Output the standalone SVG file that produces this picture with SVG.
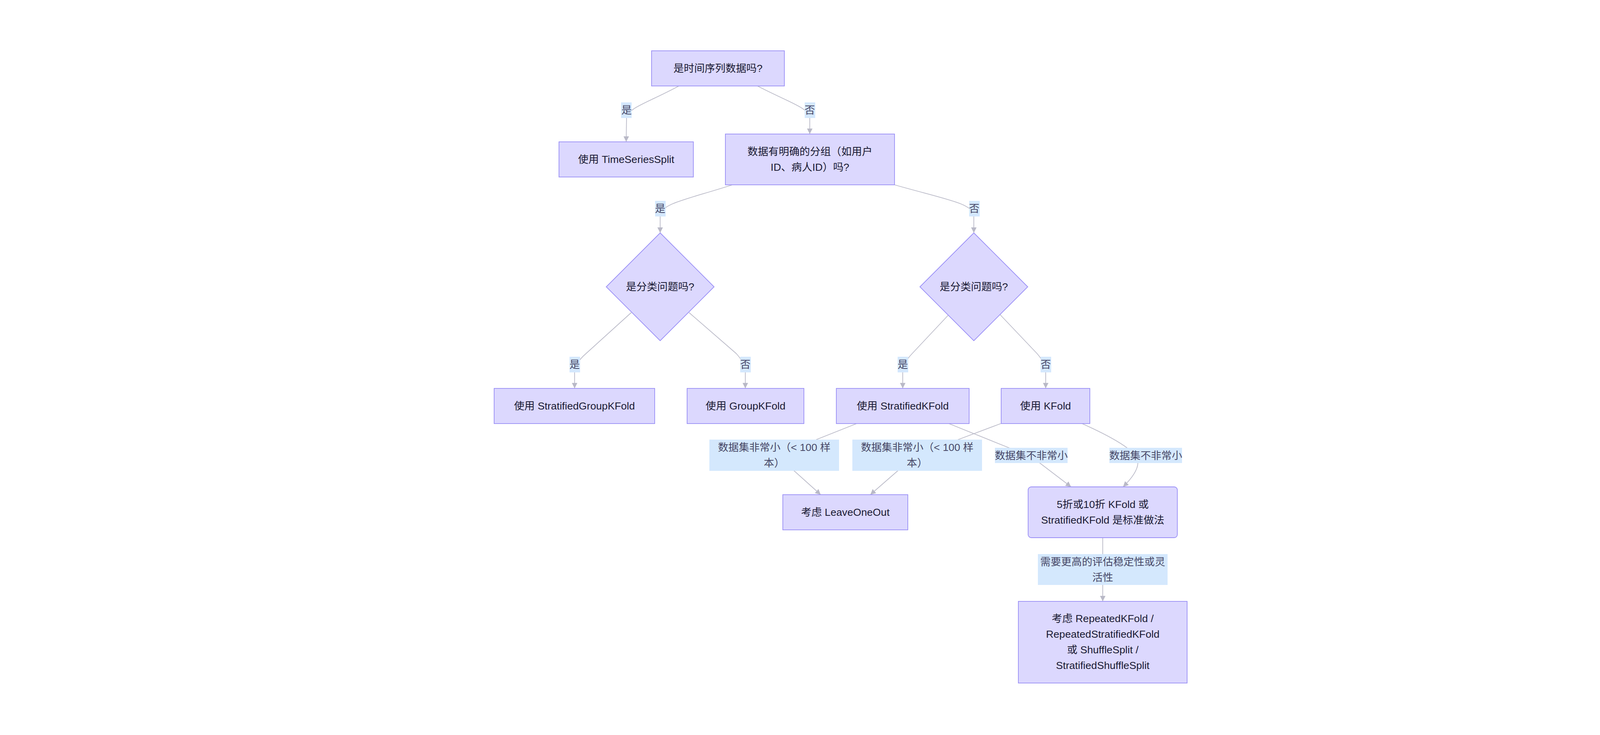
<svg xmlns="http://www.w3.org/2000/svg" width="4303" height="1881" viewBox="0 0 4303 1881">
<defs>
<style>
.node rect,.node polygon{fill:#dcd8fe;stroke:#9a8ff6;stroke-width:1.8}
.nt{font-family:"Liberation Sans","Noto Sans CJK SC",sans-serif;font-size:26.67px;fill:#1a1a33;text-anchor:middle;dominant-baseline:central}
.edge{fill:none;stroke:#b9b9c7;stroke-width:1.8}
.lbl rect{fill:#d4e8fd}
.lt{font-family:"Liberation Sans","Noto Sans CJK SC",sans-serif;font-size:26.67px;fill:#474766;text-anchor:middle;dominant-baseline:central}
</style>
<marker id="arr" viewBox="0 0 10 10" refX="10" refY="5" markerWidth="14" markerHeight="14" markerUnits="userSpaceOnUse" orient="auto">
<path d="M0,0 L10,5 L0,10 z" fill="#b9b9c7"/>
</marker>
</defs>
<rect width="4303" height="1881" fill="#ffffff"/>
<g id="connectors">
<path class="edge" d="M1738,220 C1660,262 1610,275 1604,300 L1603,363" marker-end="url(#arr)"/>
<path class="edge" d="M1939,220 C2020,262 2068,275 2073,300 L2073,343" marker-end="url(#arr)"/>
<path class="edge" d="M1875,473 C1760,510 1695,520 1690,550 L1690,596" marker-end="url(#arr)"/>
<path class="edge" d="M2290,473 C2420,510 2488,520 2493,550 L2493,596" marker-end="url(#arr)"/>
<path class="edge" d="M1616,800 L1500,905 Q1471,930 1471,955 L1471,994" marker-end="url(#arr)"/>
<path class="edge" d="M1764,800 L1885,905 Q1908,930 1908,955 L1908,994" marker-end="url(#arr)"/>
<path class="edge" d="M2429,805 L2335,905 Q2311,930 2311,955 L2311,994" marker-end="url(#arr)"/>
<path class="edge" d="M2560,805 L2655,905 Q2677,930 2677,955 L2677,994" marker-end="url(#arr)"/>
<path class="edge" d="M2193,1084 L2090,1125 L2033,1205 L2101,1266" marker-end="url(#arr)"/>
<path class="edge" d="M2562,1084 L2453,1125 L2298,1205 L2228,1266" marker-end="url(#arr)"/>
<path class="edge" d="M2429,1084 L2583,1146 L2662,1185 L2742,1246" marker-end="url(#arr)"/>
<path class="edge" d="M2770,1084 Q2850,1120 2885,1146 L2913,1185 Q2912,1210 2875,1246" marker-end="url(#arr)"/>
<path class="edge" d="M2823,1376 L2823,1539" marker-end="url(#arr)"/>
</g>
<g id="edge-labels">
<g class="lbl"><rect x="1590" y="262" width="27" height="40"/><text class="lt" x="1604" y="282">是</text></g>
<g class="lbl"><rect x="2060" y="262" width="27" height="40"/><text class="lt" x="2073" y="282">否</text></g>
<g class="lbl"><rect x="1677" y="514" width="27" height="40"/><text class="lt" x="1690" y="534">是</text></g>
<g class="lbl"><rect x="2481" y="514" width="27" height="40"/><text class="lt" x="2494" y="534">否</text></g>
<g class="lbl"><rect x="1458" y="913" width="27" height="40"/><text class="lt" x="1471" y="933">是</text></g>
<g class="lbl"><rect x="1895" y="913" width="27" height="40"/><text class="lt" x="1908" y="933">否</text></g>
<g class="lbl"><rect x="2298" y="913" width="27" height="40"/><text class="lt" x="2311" y="933">是</text></g>
<g class="lbl"><rect x="2664" y="913" width="27" height="40"/><text class="lt" x="2677" y="933">否</text></g>
<g class="lbl"><rect x="1816" y="1125" width="332" height="80"/><text class="lt" x="1982" y="1145">数据集非常小（&lt; 100 样</text><text class="lt" x="1982" y="1185">本）</text></g>
<g class="lbl"><rect x="2182" y="1125" width="332" height="80"/><text class="lt" x="2348" y="1145">数据集非常小（&lt; 100 样</text><text class="lt" x="2348" y="1185">本）</text></g>
<g class="lbl"><rect x="2547" y="1146" width="186" height="39"/><text class="lt" x="2640" y="1166">数据集不非常小</text></g>
<g class="lbl"><rect x="2840" y="1146" width="186" height="39"/><text class="lt" x="2933" y="1166">数据集不非常小</text></g>
<g class="lbl"><rect x="2657" y="1418" width="332" height="79"/><text class="lt" x="2823" y="1438">需要更高的评估稳定性或灵</text><text class="lt" x="2823" y="1478">活性</text></g>
</g>
<g id="n-timeseries-q" class="node"><rect x="1668" y="130" width="340" height="90"/><text class="nt" x="1838" y="175">是时间序列数据吗?</text></g>
<g id="n-timeseriessplit" class="node"><rect x="1431" y="363" width="344" height="90"/><text class="nt" x="1603" y="408">使用 TimeSeriesSplit</text></g>
<g id="n-group-q" class="node"><rect x="1857" y="343" width="433" height="130"/><text class="nt" x="2073.5" y="388">数据有明确的分组（如用户</text><text class="nt" x="2073.5" y="428">ID、病人ID）吗?</text></g>
<g id="n-class-q1" class="node"><polygon points="1690,596 1828,734 1690,872 1552,734"/><text class="nt" x="1690" y="734">是分类问题吗?</text></g>
<g id="n-class-q2" class="node"><polygon points="2493,596 2631,734 2493,872 2355,734"/><text class="nt" x="2493" y="734">是分类问题吗?</text></g>
<g id="n-sgkf" class="node"><rect x="1265" y="994" width="411" height="90"/><text class="nt" x="1470.5" y="1039">使用 StratifiedGroupKFold</text></g>
<g id="n-gkf" class="node"><rect x="1759" y="994" width="299" height="90"/><text class="nt" x="1908.5" y="1039">使用 GroupKFold</text></g>
<g id="n-skf" class="node"><rect x="2141" y="994" width="340" height="90"/><text class="nt" x="2311" y="1039">使用 StratifiedKFold</text></g>
<g id="n-kf" class="node"><rect x="2563" y="994" width="227" height="90"/><text class="nt" x="2676.5" y="1039">使用 KFold</text></g>
<g id="n-loo" class="node"><rect x="2004" y="1266" width="320" height="90"/><text class="nt" x="2164" y="1311">考虑 LeaveOneOut</text></g>
<g id="n-standard" class="node"><rect x="2632" y="1246" width="382" height="130" rx="8" ry="8"/><text class="nt" x="2823" y="1291">5折或10折 KFold 或</text><text class="nt" x="2823" y="1331">StratifiedKFold 是标准做法</text></g>
<g id="n-repeated" class="node"><rect x="2607" y="1539" width="432" height="209"/><text class="nt" x="2823" y="1583">考虑 RepeatedKFold /</text><text class="nt" x="2823" y="1623">RepeatedStratifiedKFold</text><text class="nt" x="2823" y="1663">或 ShuffleSplit /</text><text class="nt" x="2823" y="1703">StratifiedShuffleSplit</text></g>
</svg>
